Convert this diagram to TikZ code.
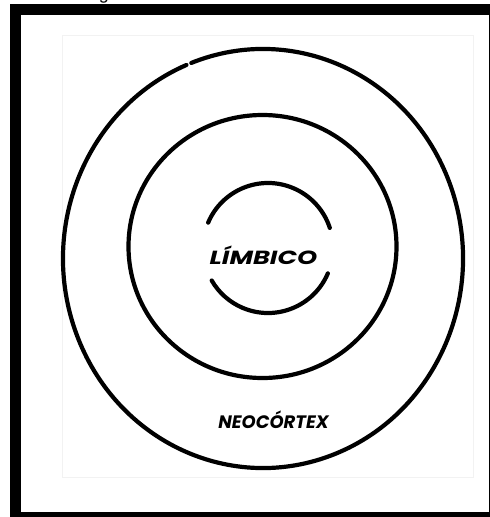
\documentclass[tikz,border=0pt]{standalone}
\usepackage{fontspec}
\setmainfont{Liberation Sans}
\newfontfamily\handfont{Poppins}
\begin{document}
\begin{tikzpicture}[x=1pt,y=-1pt,
  ring/.style={line width=4.2pt, line cap=round, black},
  lbl/.style={font=\handfont\bfseries\itshape, inner sep=0pt}]
\useasboundingbox (0,0) rectangle (490,517);
% frame
\fill[black] (10,4) rectangle (495,517);
\fill[white] (20.5,14.5) rectangle (489,512);
% faint image background edge
\draw[black!5, line width=0.8pt] (62,35) rectangle (473,477);
% clipped glyph above the frame
\node[font=\fontsize{18}{20}\selectfont, anchor=base, inner sep=0pt] (frag) at (104,-0.5) {g};
% outer ring with a small break
\draw[ring] (263,258.5) ++(249:200 and 209.5) arc[start angle=249, end angle=607.5, x radius=200, y radius=209.5];
% middle ring
\draw[ring] (262.5,246.5) ellipse[x radius=134, y radius=131.5];
% inner broken ring
\coordinate (c) at (268,248);
\draw[ring] (c) ++(203:65) arc[start angle=203, end angle=342, radius=65];
\draw[ring] (c) ++(23:65) arc[start angle=23, end angle=150, radius=65];
% labels
\node[lbl] (limbico) at (263.5,255.5) {\scalebox{1.35}[1]{\fontsize{19}{21}\selectfont LÍMBICO}};
\node[lbl] (neo) at (273.5,420) {\fontsize{18}{20}\selectfont NEOCÓRTEX};
\end{tikzpicture}
\end{document}
